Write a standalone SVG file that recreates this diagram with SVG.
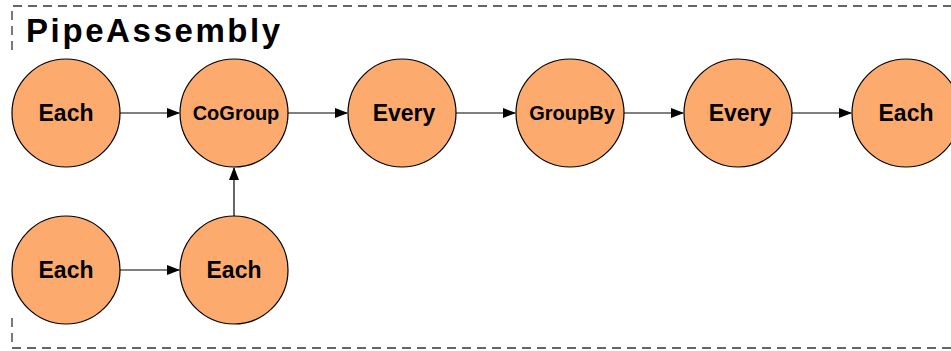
<svg xmlns="http://www.w3.org/2000/svg" width="951" height="351" viewBox="0 0 951 351">
<style>
.frame{fill:none;stroke:#333;stroke-width:1.3;stroke-dasharray:9,6}
.node circle{fill:#fdaa6f;stroke:#000;stroke-width:1.2}
.node text{font-family:"Liberation Sans",Arial,sans-serif;font-weight:bold;font-size:23px;fill:#000;text-anchor:middle}
.node text.sm{font-size:20px}
.edge{stroke:#000;stroke-width:1.2;fill:none;marker-end:url(#ah)}
.title{font-family:"Liberation Sans",Arial,sans-serif;font-weight:bold;font-size:33px;letter-spacing:2.6px;fill:#000}
</style>
<defs>
<marker id="ah" markerWidth="13" markerHeight="10" refX="12" refY="5" orient="auto" markerUnits="userSpaceOnUse">
<path d="M0,0 L13,5 L0,10 Z" fill="#000"/>
</marker>
</defs>
<rect width="951" height="351" fill="#fff"/>
<path class="frame" d="M12,50 L12,6 L951,6 M951,348 L12,348 L12,315"/>
<text class="title" x="26" y="42">PipeAssembly</text>
<g id="connectors">
<line class="edge" x1="120" y1="113" x2="179" y2="113"/>
<line class="edge" x1="288" y1="113" x2="347" y2="113"/>
<line class="edge" x1="456" y1="113" x2="515" y2="113"/>
<line class="edge" x1="624" y1="113" x2="683" y2="113"/>
<line class="edge" x1="792" y1="113" x2="851" y2="113"/>
<line class="edge" x1="120" y1="270" x2="179" y2="270"/>
<line class="edge" x1="234" y1="216" x2="234" y2="168"/>
</g>
<g id="each1" class="node"><circle cx="66" cy="113" r="54"/><text x="66" y="121">Each</text></g>
<g id="cogroup" class="node"><circle cx="234" cy="113" r="54"/><text class="sm" x="236" y="120">CoGroup</text></g>
<g id="every1" class="node"><circle cx="402" cy="113" r="54"/><text x="404" y="121">Every</text></g>
<g id="groupby" class="node"><circle cx="570" cy="113" r="54"/><text class="sm" x="572" y="120">GroupBy</text></g>
<g id="every2" class="node"><circle cx="738" cy="113" r="54"/><text x="740" y="121">Every</text></g>
<g id="each2" class="node"><circle cx="906" cy="113" r="54"/><text x="906" y="121">Each</text></g>
<g id="each3" class="node"><circle cx="66" cy="270" r="54"/><text x="66" y="278">Each</text></g>
<g id="each4" class="node"><circle cx="234" cy="270" r="54"/><text x="234" y="278">Each</text></g>
</svg>
